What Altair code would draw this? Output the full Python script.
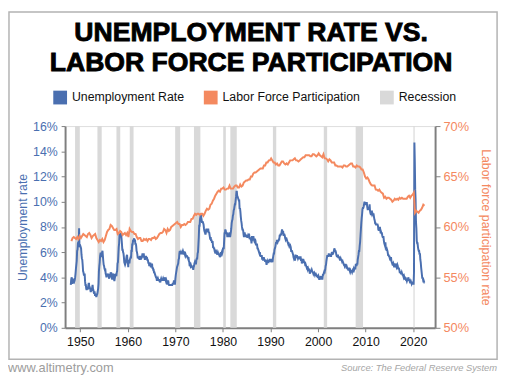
import altair as alt
import pandas as pd

# ---------------- data ----------------
# Monthly unemployment rate (%), Jan 1948 onward
un_1948_1959 = [
    3.4, 3.8, 4.0, 3.9, 3.5, 3.6, 3.6, 3.9, 3.8, 3.7, 3.8, 4.0,
    4.3, 4.7, 5.0, 5.3, 6.1, 6.2, 6.7, 6.8, 6.6, 7.9, 6.4, 6.6,
    6.5, 6.4, 6.3, 5.8, 5.5, 5.4, 5.0, 4.5, 4.4, 4.2, 4.2, 4.3,
    3.7, 3.4, 3.4, 3.1, 3.0, 3.2, 3.1, 3.1, 3.3, 3.5, 3.5, 3.1,
    3.2, 3.1, 2.9, 2.9, 3.0, 3.0, 3.2, 3.4, 3.1, 3.0, 2.8, 2.7,
    2.9, 2.6, 2.6, 2.7, 2.5, 2.5, 2.6, 2.7, 2.9, 3.1, 3.5, 4.5,
    4.9, 5.2, 5.7, 5.9, 5.9, 5.6, 5.8, 6.0, 6.1, 5.7, 5.3, 5.0,
    4.9, 4.7, 4.6, 4.7, 4.3, 4.2, 4.0, 4.2, 4.1, 4.3, 4.2, 4.2,
    4.0, 3.9, 4.2, 4.0, 4.3, 4.3, 4.4, 4.1, 3.9, 3.9, 4.3, 4.2,
    4.2, 3.9, 3.7, 3.9, 4.1, 4.3, 4.2, 4.1, 4.4, 4.5, 5.1, 5.2,
    5.8, 6.4, 6.7, 7.4, 7.4, 7.3, 7.5, 7.4, 7.1, 6.7, 6.2, 6.2,
    6.0, 5.9, 5.6, 5.2, 5.1, 5.0, 5.1, 5.2, 5.5, 5.7, 5.8, 5.3,
]
un_1960s = [
    5.2, 4.8, 5.4, 5.2, 5.1, 5.4, 5.5, 5.6, 5.5, 6.1, 6.1, 6.6,
    6.6, 6.9, 6.9, 7.0, 7.1, 6.9, 7.0, 6.6, 6.7, 6.5, 6.1, 6.0,
    5.8, 5.5, 5.6, 5.6, 5.5, 5.5, 5.4, 5.7, 5.6, 5.4, 5.7, 5.5,
    5.7, 5.9, 5.7, 5.7, 5.9, 5.6, 5.6, 5.4, 5.5, 5.5, 5.7, 5.5,
    5.6, 5.4, 5.4, 5.3, 5.1, 5.2, 4.9, 5.0, 5.1, 5.1, 4.8, 5.0,
    4.9, 5.1, 4.7, 4.8, 4.6, 4.6, 4.4, 4.4, 4.3, 4.2, 4.1, 4.0,
    4.0, 3.8, 3.8, 3.8, 3.9, 3.8, 3.8, 3.8, 3.7, 3.7, 3.6, 3.8,
    3.9, 3.8, 3.8, 3.8, 3.8, 3.9, 3.8, 3.8, 3.8, 4.0, 3.9, 3.8,
    3.7, 3.8, 3.7, 3.5, 3.5, 3.7, 3.7, 3.5, 3.4, 3.4, 3.4, 3.4,
    3.4, 3.4, 3.4, 3.4, 3.4, 3.5, 3.5, 3.5, 3.7, 3.7, 3.5, 3.5,
]
un_1970s = [
    3.9, 4.2, 4.4, 4.6, 4.8, 4.9, 5.0, 5.1, 5.4, 5.5, 5.9, 6.1,
    5.9, 5.9, 6.0, 5.9, 5.9, 5.9, 6.0, 6.1, 6.0, 5.8, 6.0, 6.0,
    5.8, 5.7, 5.8, 5.7, 5.7, 5.7, 5.6, 5.6, 5.5, 5.6, 5.3, 5.2,
    4.9, 5.0, 4.9, 5.0, 4.9, 4.9, 4.8, 4.8, 4.8, 4.6, 4.8, 4.9,
    5.1, 5.2, 5.1, 5.1, 5.1, 5.4, 5.5, 5.5, 5.9, 6.0, 6.6, 7.2,
    8.1, 8.1, 8.6, 8.8, 9.0, 8.8, 8.6, 8.4, 8.4, 8.4, 8.3, 8.2,
    7.9, 7.7, 7.6, 7.7, 7.4, 7.6, 7.8, 7.8, 7.6, 7.7, 7.8, 7.8,
    7.5, 7.6, 7.4, 7.2, 7.0, 7.2, 6.9, 7.0, 6.8, 6.8, 6.8, 6.4,
    6.4, 6.3, 6.3, 6.1, 6.0, 5.9, 6.2, 5.9, 6.0, 5.8, 5.9, 6.0,
    5.9, 5.9, 5.8, 5.8, 5.6, 5.7, 5.7, 6.0, 5.9, 6.0, 5.9, 6.0,
]
un_1980s = [
    6.3, 6.3, 6.3, 6.9, 7.5, 7.6, 7.8, 7.7, 7.5, 7.5, 7.5, 7.2,
    7.5, 7.4, 7.4, 7.2, 7.5, 7.5, 7.2, 7.4, 7.6, 7.9, 8.3, 8.5,
    8.6, 8.9, 9.0, 9.3, 9.4, 9.6, 9.8, 9.8, 10.1, 10.4, 10.8, 10.8,
    10.4, 10.4, 10.3, 10.2, 10.1, 10.1, 9.4, 9.5, 9.2, 8.8, 8.5, 8.3,
    8.0, 7.8, 7.8, 7.7, 7.4, 7.2, 7.5, 7.5, 7.3, 7.4, 7.2, 7.3,
    7.3, 7.2, 7.2, 7.3, 7.2, 7.4, 7.4, 7.1, 7.1, 7.1, 7.0, 7.0,
    6.7, 7.2, 7.2, 7.1, 7.2, 7.2, 7.0, 6.9, 7.0, 7.0, 6.9, 6.6,
    6.6, 6.6, 6.6, 6.3, 6.3, 6.2, 6.1, 6.0, 5.9, 6.0, 5.8, 5.7,
    5.7, 5.7, 5.7, 5.4, 5.6, 5.4, 5.4, 5.6, 5.4, 5.4, 5.3, 5.3,
    5.4, 5.2, 5.0, 5.2, 5.2, 5.3, 5.2, 5.2, 5.3, 5.3, 5.4, 5.4,
]
un_1990s = [
    5.4, 5.3, 5.2, 5.4, 5.4, 5.2, 5.5, 5.7, 5.9, 5.9, 6.2, 6.3,
    6.4, 6.6, 6.8, 6.7, 6.9, 6.9, 6.8, 6.9, 6.9, 7.0, 7.0, 7.3,
    7.3, 7.4, 7.4, 7.4, 7.6, 7.8, 7.7, 7.6, 7.6, 7.3, 7.4, 7.4,
    7.3, 7.1, 7.0, 7.1, 7.1, 7.0, 6.9, 6.8, 6.7, 6.8, 6.6, 6.5,
    6.6, 6.6, 6.5, 6.4, 6.1, 6.1, 6.1, 6.0, 5.9, 5.8, 5.6, 5.5,
    5.6, 5.4, 5.4, 5.8, 5.6, 5.6, 5.7, 5.7, 5.6, 5.5, 5.6, 5.6,
    5.6, 5.5, 5.5, 5.6, 5.6, 5.3, 5.5, 5.1, 5.2, 5.2, 5.4, 5.4,
    5.3, 5.2, 5.2, 5.1, 4.9, 5.0, 4.9, 4.8, 4.9, 4.7, 4.6, 4.7,
    4.6, 4.6, 4.7, 4.3, 4.4, 4.5, 4.5, 4.5, 4.6, 4.5, 4.4, 4.4,
    4.3, 4.4, 4.2, 4.3, 4.2, 4.3, 4.3, 4.2, 4.2, 4.1, 4.1, 4.0,
]
un_2000s = [
    4.0, 4.1, 4.0, 3.8, 4.0, 4.0, 4.0, 4.1, 3.9, 3.9, 3.9, 3.9,
    4.2, 4.2, 4.3, 4.4, 4.3, 4.5, 4.6, 4.9, 5.0, 5.3, 5.5, 5.7,
    5.7, 5.7, 5.7, 5.9, 5.8, 5.8, 5.8, 5.7, 5.7, 5.7, 5.9, 6.0,
    5.8, 5.9, 5.9, 6.0, 6.1, 6.3, 6.2, 6.1, 6.1, 6.0, 5.8, 5.7,
    5.7, 5.6, 5.8, 5.6, 5.6, 5.6, 5.5, 5.4, 5.4, 5.5, 5.4, 5.4,
    5.3, 5.4, 5.2, 5.2, 5.1, 5.0, 5.0, 4.9, 5.0, 5.0, 5.0, 4.9,
    4.7, 4.8, 4.7, 4.7, 4.6, 4.6, 4.7, 4.7, 4.5, 4.4, 4.5, 4.4,
    4.6, 4.5, 4.4, 4.5, 4.4, 4.6, 4.7, 4.6, 4.7, 4.7, 4.7, 5.0,
    5.0, 4.9, 5.1, 5.0, 5.4, 5.6, 5.8, 6.1, 6.1, 6.5, 6.8, 7.3,
    7.8, 8.3, 8.7, 9.0, 9.4, 9.5, 9.5, 9.6, 9.8, 10.0, 9.9, 9.9,
]
un_2010s = [
    9.8, 9.8, 9.9, 9.9, 9.6, 9.4, 9.4, 9.5, 9.5, 9.4, 9.8, 9.3,
    9.1, 9.0, 9.0, 9.1, 9.0, 9.1, 9.0, 9.0, 9.0, 8.8, 8.6, 8.5,
    8.3, 8.3, 8.2, 8.2, 8.2, 8.2, 8.2, 8.1, 7.8, 7.8, 7.7, 7.9,
    8.0, 7.7, 7.5, 7.6, 7.5, 7.5, 7.3, 7.2, 7.2, 7.2, 6.9, 6.7,
    6.6, 6.7, 6.7, 6.2, 6.3, 6.1, 6.2, 6.1, 5.9, 5.7, 5.8, 5.6,
    5.7, 5.5, 5.4, 5.4, 5.6, 5.3, 5.2, 5.1, 5.0, 5.0, 5.1, 5.0,
    4.8, 4.9, 5.0, 5.1, 4.8, 4.9, 4.8, 4.9, 5.0, 4.9, 4.7, 4.7,
    4.7, 4.6, 4.4, 4.4, 4.4, 4.3, 4.3, 4.4, 4.3, 4.2, 4.2, 4.1,
    4.0, 4.1, 4.0, 4.0, 3.8, 4.0, 3.8, 3.8, 3.7, 3.8, 3.8, 3.9,
    4.0, 3.8, 3.8, 3.7, 3.6, 3.6, 3.7, 3.6, 3.5, 3.6, 3.6, 3.6,
]
un_2020s = [
    3.5, 3.5, 4.4, 14.7, 13.2, 11.0, 10.2, 8.4, 7.9, 6.9, 6.7, 6.7,
    6.4, 6.2, 6.1, 6.1, 5.8, 5.9, 5.4, 5.2, 4.8, 4.5, 4.2, 3.9,
    4.0, 3.8, 3.6, 3.7, 3.6, 3.6,
]

# Quarterly labor force participation rate (%), 1948 Q1 onward
lfp_1948_1959 = [
    58.6, 58.9, 59.0, 58.9, 58.8, 59.0, 58.8, 59.1, 58.9, 59.1, 59.3, 59.2,
    59.1, 59.0, 59.3, 59.4, 59.2, 58.9, 59.1, 59.2, 59.3, 58.9, 58.7, 58.5,
    58.7, 58.6, 58.8, 58.5, 58.7, 59.1, 59.5, 59.7, 59.8, 60.2, 60.1, 59.9,
    59.7, 59.7, 59.8, 59.3, 59.4, 59.6, 59.5, 59.2, 59.3, 59.4, 59.2, 59.4,
]
lfp_1960s = [
    59.0, 59.8, 59.6, 59.5, 59.5, 59.3, 59.3, 59.0, 58.8, 58.9, 58.9, 58.6,
    58.6, 58.8, 58.7, 58.8, 58.6, 58.8, 58.8, 58.7, 58.9, 58.9, 59.0, 58.8,
    58.9, 59.1, 59.3, 59.4, 59.4, 59.5, 59.8, 59.7, 59.4, 59.8, 59.6, 59.7,
    60.0, 60.1, 60.2, 60.3,
]
lfp_1970s = [
    60.4, 60.5, 60.3, 60.3, 60.0, 60.2, 60.2, 60.3, 60.2, 60.3, 60.5, 60.5,
    60.5, 60.8, 60.8, 61.1, 61.3, 61.2, 61.3, 61.3, 61.2, 61.3, 61.3, 61.1,
    61.3, 61.6, 61.8, 61.7, 61.8, 62.2, 62.3, 62.6, 62.8, 63.1, 63.3, 63.5,
    63.6, 63.5, 63.8, 63.8,
]
lfp_1980s = [
    63.9, 63.7, 63.7, 63.8, 63.8, 64.1, 63.8, 63.8, 63.8, 64.0, 64.1, 64.1,
    63.9, 63.9, 64.2, 64.0, 64.1, 64.4, 64.5, 64.6, 64.6, 64.7, 64.7, 65.0,
    65.0, 65.3, 65.4, 65.4, 65.5, 65.6, 65.7, 65.8, 65.8, 65.8, 66.1, 66.1,
    66.4, 66.4, 66.6, 66.6,
]
lfp_1990s = [
    66.8, 66.6, 66.4, 66.4, 66.2, 66.3, 66.1, 66.1, 66.3, 66.5, 66.5, 66.3,
    66.2, 66.3, 66.2, 66.4, 66.6, 66.6, 66.6, 66.7, 66.8, 66.6, 66.6, 66.5,
    66.6, 66.7, 66.8, 66.9, 66.9, 67.1, 67.1, 67.1, 67.1, 67.0, 67.0, 67.2,
    67.2, 67.1, 67.0, 67.1,
]
lfp_2000s = [
    67.3, 67.1, 67.0, 66.9, 67.2, 66.8, 66.8, 66.7, 66.5, 66.7, 66.6, 66.4,
    66.4, 66.4, 66.1, 66.1, 66.0, 66.0, 66.0, 66.0, 65.9, 66.1, 66.1, 66.0,
    66.0, 66.1, 66.2, 66.3, 66.3, 66.0, 66.0, 65.9, 66.1, 66.0, 66.0, 65.9,
    65.7, 65.7, 65.4, 65.0,
]
lfp_2010s = [
    64.8, 64.9, 64.7, 64.4, 64.2, 64.1, 64.1, 64.1, 63.7, 63.7, 63.6, 63.7,
    63.5, 63.4, 63.3, 62.9, 63.0, 62.8, 62.9, 62.9, 62.8, 62.7, 62.5, 62.6,
    62.8, 62.7, 62.8, 62.7, 62.9, 62.8, 62.9, 62.8, 62.8, 62.8, 62.8, 63.0,
    63.1, 62.9, 63.1, 63.2,
]
lfp_2020s = [
    63.4, 61.4, 61.6, 61.5, 61.4, 61.6, 61.7, 61.9, 62.2, 62.1,
]

# NBER recessions (start, end) as fractional years
rec_start = [1948.9, 1953.6, 1957.6, 1960.4, 1969.95, 1973.9, 1980.05, 1981.55, 1990.5, 2001.2, 2007.9, 2020.05]
rec_end   = [1949.9, 1954.5, 1958.4, 1961.2, 1971.0, 1975.25, 1980.6, 1982.9, 1991.2, 2001.9, 2009.45, 2020.3]

series_names = ["Unemployment Rate", "Labor Force Participation", "Recession"]
series_colors = ["#4a6fb0", "#f4895f", "#d9d9d9"]
x_ticks = [1950, 1960, 1970, 1980, 1990, 2000, 2010, 2020]
left_ticks = [0, 2, 4, 6, 8, 10, 12, 14, 16]
right_ticks = [50, 55, 60, 65, 70]
title_text = "UNEMPLOYMENT RATE VS.\nLABOR FORCE PARTICIPATION"
footer_left = "www.altimetry.com"
footer_right = "Source: The Federal Reserve System"

# ---------------- tables ----------------
un_vals = un_1948_1959 + un_1960s + un_1970s + un_1980s + un_1990s + un_2000s + un_2010s + un_2020s
un_df = pd.DataFrame({
    "year": [1948 + i / 12 for i in range(len(un_vals))],
    "value": un_vals,
    "series": series_names[0],
})
lfp_vals = lfp_1948_1959 + lfp_1960s + lfp_1970s + lfp_1980s + lfp_1990s + lfp_2000s + lfp_2010s + lfp_2020s
lfp_df = pd.DataFrame({
    "year": [1948 + i / 4 + 0.125 for i in range(len(lfp_vals))],
    "value": lfp_vals,
    "series": series_names[1],
})
rec_df = pd.DataFrame({"year": rec_start, "end": rec_end, "series": series_names[2],
                       "lo": left_ticks[0], "hi": left_ticks[-1]})

FONT = "Liberation Sans"
BLUE, ORANGE, GRAY = series_colors
AXIS_GRAY = "#7f7f7f"

color_scale = alt.Scale(domain=series_names, range=series_colors)
x_scale = alt.Scale(domain=[1946.8, 2024.6], nice=False, zero=False)
x_axis = alt.Axis(values=x_ticks, format="d", title=None, grid=False,
                  labelFont=FONT, labelFontSize=12.5, labelColor="#111111",
                  labelPadding=4, tickSize=4, tickColor=AXIS_GRAY, tickWidth=1,
                  domainColor=AXIS_GRAY, domainWidth=2, labelOverlap=False)
left_scale = alt.Scale(domain=[0, 16], nice=False)
left_axis = alt.Axis(orient="left", values=left_ticks, grid=False, labelOverlap=False,
                     labelExpr="datum.value + '%'", labelFont=FONT, labelFontSize=12.5,
                     labelColor=BLUE, labelPadding=4, tickSize=4, tickColor=AXIS_GRAY,
                     tickWidth=1, domainColor=AXIS_GRAY, domainWidth=2,
                     title="Unemployment rate", titleFont=FONT, titleFontSize=12.5,
                     titleFontWeight="normal", titleColor=BLUE, titlePadding=3)
right_axis = alt.Axis(orient="right", values=right_ticks, grid=False, labelOverlap=False,
                      labelExpr="datum.value + '%'", labelFont=FONT, labelFontSize=13,
                      labelColor=ORANGE, labelPadding=3, tickSize=5, tickColor=AXIS_GRAY,
                      tickWidth=1, domainColor=AXIS_GRAY, domainWidth=2,
                      title="Labor force participation rate", titleFont=FONT,
                      titleFontSize=12.5, titleFontWeight="normal", titleColor=ORANGE,
                      titlePadding=10)

rec = alt.Chart(rec_df).mark_rect(opacity=1).encode(
    x=alt.X("year:Q", scale=x_scale, axis=x_axis),
    x2="end:Q",
    y=alt.Y("lo:Q", scale=left_scale, axis=left_axis),
    y2="hi:Q",
    color=alt.Color("series:N", scale=color_scale,
                    legend=alt.Legend(
                        title=None, orient="none", legendX=-12, legendY=-36,
                        direction="horizontal", symbolType="square", symbolSize=196,
                        symbolStrokeWidth=0, symbolOpacity=1, labelFont=FONT,
                        labelFontSize=12.5, labelColor="#111111", labelOffset=5,
                        columnPadding=20, padding=0)),
)

un_line = alt.Chart(un_df).mark_line(strokeWidth=2).encode(
    x=alt.X("year:Q", scale=x_scale, axis=x_axis),
    y=alt.Y("value:Q", scale=left_scale, axis=left_axis),
    color=alt.Color("series:N", scale=color_scale, legend=None),
)

lfp_line = alt.Chart(lfp_df).mark_line(strokeWidth=2).encode(
    x=alt.X("year:Q", scale=x_scale, axis=x_axis),
    y=alt.Y("value:Q", scale=alt.Scale(domain=[50, 70], nice=False, zero=False),
            axis=right_axis),
    color=alt.Color("series:N", scale=color_scale, legend=None),
)

frame = alt.Chart(pd.DataFrame({"k": [0]})).mark_rect(
    fillOpacity=0, stroke="#b3b3b3", strokeWidth=1.5
).encode(x=alt.value(-57), x2=alt.value(439), y=alt.value(-116), y2=alt.value(237))

title = alt.Chart(pd.DataFrame({"t": [title_text]})).mark_text(
    align="center", baseline="alphabetic", font=FONT, fontSize=27, fontWeight="bold",
    color="#000000", stroke="#000000", strokeWidth=0.9, lineBreak="\n", lineHeight=30
).encode(text="t:N", x=alt.value(189), y=alt.value(-86))

foot_l = alt.Chart(pd.DataFrame({"t": [footer_left]})).mark_text(
    align="left", baseline="alphabetic", font=FONT, fontSize=13, color="#9c9c9c"
).encode(text="t:N", x=alt.value(-58), y=alt.value(250))

foot_r = alt.Chart(pd.DataFrame({"t": [footer_right]})).mark_text(
    align="right", baseline="alphabetic", font=FONT, fontSize=9.5, fontStyle="italic",
    color="#a6a6a6"
).encode(text="t:N", x=alt.value(439), y=alt.value(249))

chart = alt.layer(
    alt.layer(rec, un_line), lfp_line, frame, title, foot_l, foot_r
).resolve_scale(y="independent").properties(
    width=376, height=205,
    padding={"left": 58, "top": 117, "right": 68, "bottom": 48},
    autosize=alt.AutoSizeParams(type="none"),
).configure_view(stroke=None).configure(background="white")

chart.save("out.html", embed_options={"renderer": "svg", "actions": False})
